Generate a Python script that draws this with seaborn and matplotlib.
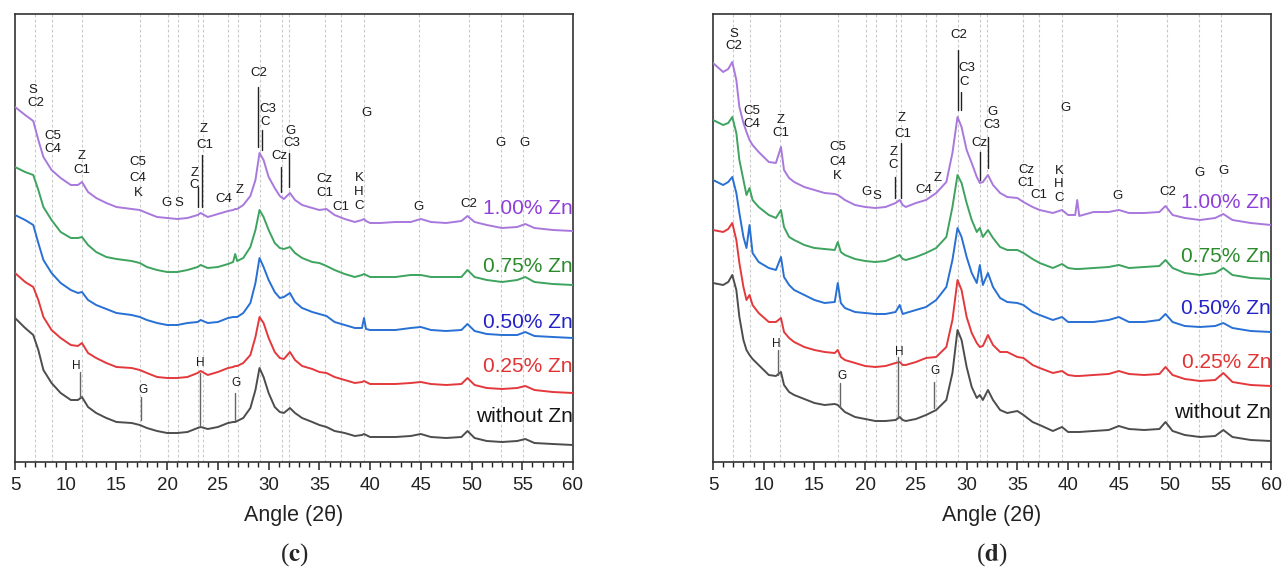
import numpy as np
import pandas as pd
import matplotlib
matplotlib.use("Agg")
import matplotlib.pyplot as plt
from matplotlib.ticker import MultipleLocator
import seaborn as sns

sns.set_theme(style="white")
plt.rcParams['font.family'] = ['Liberation Sans', 'DejaVu Sans']
plt.rcParams['mathtext.fontset'] = 'stix'

# ---------------- data: panel (c) ----------------
angle_c = [5, 6, 6.8, 7.3, 7.8, 8.6, 9.5, 10.5, 11.2, 11.6, 12.2, 13, 14, 15, 16.5, 17.3, 18, 19, 20, 21,
           22, 23, 23.3, 24, 25, 26, 26.5, 26.7, 26.9, 27.5, 28.2, 28.7, 29.1, 29.5, 30, 30.6, 31.1, 31.5,
           32.1, 32.6, 33.3, 34.3, 35, 35.7, 36.5, 37.5, 38.5, 39.2, 39.4, 39.6, 40, 41, 42.5, 44, 45, 46,
           47.5, 49, 49.6, 50.3, 51.5, 53, 54.5, 55.3, 56.2, 58, 60]
c_zn100 = [355, 347, 341, 322, 305, 292, 284, 277, 277, 280, 270, 264, 259, 255, 253, 252, 249, 245, 244, 243,
           244, 247, 249, 245, 248, 251, 252, 253, 253, 257, 266, 282, 309, 302, 285, 274, 266, 263,
           269, 262, 257, 254, 252, 253, 247, 243, 240, 242, 243, 241, 239, 239, 240, 240, 243, 240,
           239, 241, 246, 240, 237, 234, 235, 238, 234, 232, 231]
c_zn075 = [295, 290, 287, 272, 255, 242, 230, 224, 224, 225, 217, 210, 205, 203, 201, 199, 195, 192, 190, 190,
           192, 195, 197, 194, 195, 198, 200, 208, 201, 204, 215, 232, 252, 245, 232, 219, 214, 213,
           215, 209, 204, 200, 199, 196, 192, 188, 185, 187, 188, 187, 185, 185, 185, 187, 187, 185,
           185, 185, 192, 185, 182, 180, 182, 185, 180, 178, 177]
c_zn050 = [247, 242, 237, 219, 202, 189, 179, 172, 169, 170, 162, 157, 153, 149, 147, 145, 142, 139, 137, 137,
           139, 140, 142, 139, 140, 144, 145, 145, 145, 149, 159, 179, 204, 195, 182, 170, 164, 165,
           169, 160, 154, 150, 148, 146, 140, 137, 134, 134, 144, 133, 132, 132, 132, 134, 135, 132,
           131, 132, 138, 131, 128, 127, 127, 130, 126, 125, 124]
c_zn025 = [189, 180, 175, 162, 145, 132, 124, 117, 116, 119, 109, 104, 99, 95, 94, 92, 89, 85, 84, 84,
           85, 89, 91, 87, 90, 94, 95, 96, 96, 99, 107, 125, 145, 139, 124, 110, 104, 103,
           110, 102, 96, 93, 90, 89, 85, 82, 79, 80, 81, 80, 78, 78, 78, 79, 80, 78,
           77, 78, 84, 77, 74, 73, 74, 76, 72, 70, 69]
c_zn000 = [144, 134, 127, 112, 92, 79, 69, 62, 62, 65, 55, 49, 44, 40, 39, 37, 34, 31, 29, 29,
           30, 34, 35, 33, 35, 39, 40, 40, 41, 44, 54, 72, 94, 85, 69, 55, 50, 49,
           54, 49, 44, 40, 37, 35, 31, 29, 26, 27, 28, 27, 25, 25, 25, 26, 28, 25,
           24, 25, 31, 24, 21, 20, 21, 23, 19, 18, 17]

# ---------------- data: panel (d) ----------------
angle_d = [5, 6, 6.5, 6.9, 7.3, 7.6, 8, 8.3, 8.6, 8.9, 9.5, 10.5, 11.2, 11.7, 12, 12.5, 13, 14, 15, 16,
           17, 17.3, 17.6, 18, 19, 20, 21, 22, 23, 23.4, 23.7, 24, 25, 26, 27, 28, 28.6, 29.1, 29.5, 30,
           30.5, 31, 31.3, 31.6, 32.1, 32.6, 33.3, 34, 35, 35.6, 36.5, 37.2, 38.5, 39.4, 40, 40.7, 40.9,
           41.1, 42.5, 44, 45, 46, 47.5, 49, 49.6, 50.3, 51.5, 53, 54.5, 55.3, 56.2, 58, 60]
d_zn100 = [399, 390, 393, 400, 382, 355, 339, 330, 322, 317, 310, 300, 299, 315, 292, 284, 280, 275, 272, 269,
           268, 267, 265, 262, 257, 255, 254, 255, 259, 262, 257, 255, 259, 262, 269, 280, 309, 345, 335, 312,
           299, 285, 279, 280, 287, 277, 269, 265, 264, 260, 255, 252, 249, 252, 247, 247, 262,
           246, 250, 250, 252, 249, 249, 250, 256, 247, 244, 242, 244, 248, 242, 239, 237]
d_zn075 = [342, 337, 339, 345, 329, 302, 282, 267, 274, 262, 255, 247, 244, 252, 235, 225, 222, 217, 214, 213,
           212, 220, 210, 207, 203, 201, 200, 201, 205, 207, 203, 202, 205, 209, 214, 225, 255, 287, 279, 259,
           242, 230, 234, 225, 232, 224, 215, 212, 212, 209, 203, 199, 194, 198, 194, 193, 193,
           193, 194, 195, 197, 194, 195, 196, 202, 194, 189, 187, 189, 194, 187, 184, 183]
d_zn050 = [282, 277, 280, 285, 269, 249, 225, 214, 237, 209, 200, 194, 192, 205, 185, 177, 172, 167, 162, 159,
           160, 179, 159, 154, 150, 149, 148, 148, 150, 157, 148, 149, 152, 155, 162, 175, 202, 234, 225, 205,
           189, 179, 197, 177, 189, 175, 164, 160, 159, 157, 150, 147, 142, 145, 140, 140, 140,
           140, 140, 142, 145, 140, 140, 142, 148, 140, 136, 135, 136, 139, 134, 131, 130]
d_zn025 = [232, 230, 233, 239, 222, 199, 175, 162, 167, 157, 149, 140, 140, 144, 130, 124, 120, 115, 112, 110,
           109, 112, 105, 102, 99, 96, 95, 96, 99, 100, 97, 97, 100, 104, 105, 115, 142, 182, 172, 145,
           129, 119, 115, 116, 127, 117, 110, 110, 105, 104, 97, 94, 89, 91, 87, 86, 86,
           86, 87, 88, 91, 88, 87, 88, 95, 87, 83, 81, 82, 89, 80, 77, 76]
d_zn000 = [179, 177, 180, 187, 172, 145, 122, 112, 107, 103, 97, 87, 86, 90, 77, 70, 67, 63, 59, 57,
           58, 57, 54, 50, 45, 43, 41, 41, 42, 45, 42, 41, 43, 47, 52, 62, 89, 132, 122, 95,
           75, 64, 67, 62, 72, 62, 52, 49, 51, 47, 40, 37, 31, 35, 30, 30, 30,
           30, 31, 32, 36, 33, 32, 33, 40, 31, 27, 25, 26, 32, 25, 22, 21]

samples = ["without Zn", "0.25% Zn", "0.50% Zn", "0.75% Zn", "1.00% Zn"]
line_colors = {"without Zn": "#4d4d4d", "0.25% Zn": "#e4393c", "0.50% Zn": "#2870d4",
               "0.75% Zn": "#3ea35f", "1.00% Zn": "#a878dc"}
label_colors = {"without Zn": "#151515", "0.25% Zn": "#e03434", "0.50% Zn": "#2323c8",
                "0.75% Zn": "#2b8b2b", "1.00% Zn": "#8f3fd9"}

label_y_c = [46, 95, 140, 195, 254]
label_y_d = [49, 100, 153, 206, 259]

grid_angles = [7.0, 8.6, 11.6, 17.3, 20.1, 21.1, 23.0, 23.5, 26.0, 27.0, 29.1, 31.3, 32.0,
               35.6, 37.1, 39.4, 44.8, 49.7, 52.9, 55.1]

# phase annotations: (angle, height, text)
annot_c = [(6.8, 372, "S"), (7.07, 359, "C2"), (8.68, 326, "C5"), (8.68, 313, "C4"),
           (11.57, 306, "Z"), (11.57, 292, "C1"), (17.15, 300, "C5"), (17.15, 284, "C4"), (17.15, 269, "K"),
           (19.95, 259, "G"), (21.2, 259, "S"), (22.67, 289, "Z"), (22.67, 277, "C"),
           (23.6, 333, "Z"), (23.7, 317, "C1"), (25.63, 263, "C4"), (27.1, 272, "Z"),
           (29.05, 389, "C2"), (29.9, 353, "C3"), (29.64, 340, "C"), (31.1, 306, "Cz"),
           (32.18, 331, "G"), (32.27, 319, "C3"), (35.5, 283, "Cz"), (35.5, 269, "C1"), (37.1, 255, "C1"),
           (38.9, 284, "K"), (38.9, 270, "H"), (38.9, 256, "C"), (39.67, 349, "G"),
           (44.75, 255, "G"), (49.7, 258, "C2"), (52.9, 319, "G"), (55.2, 319, "G")]
marks_c = [(23.0, 255, 275), (23.46, 255, 307), (29.0, 315, 375), (29.35, 312, 332),
           (31.2, 270, 295), (32.0, 275, 309)]
annot_c_low = [(11.08, 96, "H"), (17.6, 72, "G"), (23.3, 99, "H"), (26.75, 79, "G")]
marks_c_low = [(11.4, 65, 90), (17.4, 42, 65), (23.24, 37, 89), (26.7, 42, 69)]

annot_d = [(7.1, 428, "S"), (7.1, 416, "C2"), (8.8, 351, "C5"), (8.8, 338, "C4"),
           (11.7, 342, "Z"), (11.7, 329, "C1"), (17.3, 315, "C5"), (17.3, 300, "C4"), (17.3, 286, "K"),
           (20.1, 270, "G"), (21.2, 266, "S"), (22.77, 310, "Z"), (22.77, 297, "C"),
           (23.6, 344, "Z"), (23.76, 328, "C1"), (25.73, 272, "C4"), (27.15, 284, "Z"),
           (29.18, 427, "C2"), (30.0, 394, "C3"), (29.74, 380, "C"), (31.25, 319, "Cz"),
           (32.53, 350, "G"), (32.53, 337, "C3"), (35.85, 292, "Cz"), (35.85, 279, "C1"), (37.16, 267, "C1"),
           (39.1, 291, "K"), (39.1, 278, "H"), (39.1, 264, "C"), (39.7, 354, "G"),
           (44.9, 266, "G"), (49.8, 270, "C2"), (53.0, 289, "G"), (55.3, 291, "G")]
marks_d = [(22.94, 264, 285), (23.53, 264, 319), (29.12, 352, 412), (29.41, 352, 370),
           (31.3, 282, 310), (32.08, 294, 325)]
annot_d_low = [(11.28, 118, "H"), (17.7, 86, "G"), (23.36, 110, "H"), (26.9, 91, "G")]
marks_d_low = [(11.44, 87, 112), (17.5, 55, 79), (23.27, 44, 105), (26.8, 54, 80)]


def draw_panel(ax, angle, series, label_y, annot, marks, annot_low, marks_low):
    for g in grid_angles:
        ax.axvline(g, color="#c9c9c9", lw=0.8, ls=(0, (2.5, 2)), zorder=0)
    frames = []
    for name, vals in zip(samples, series):
        frames.append(pd.DataFrame({"angle": angle, "intensity": vals, "sample": name}))
    df = pd.concat(frames, ignore_index=True)
    sns.lineplot(data=df, x="angle", y="intensity", hue="sample", hue_order=samples,
                 palette=line_colors, estimator=None, legend=False, linewidth=1.4, ax=ax, zorder=3)
    for name, y in zip(samples, label_y):
        ax.text(60.0, y, name, color=label_colors[name], ha="right", va="center", fontsize=15, zorder=5)
    for x, y, t in annot:
        ax.text(x, y, t, ha="center", va="center", fontsize=9.5, color="#1a1a1a", zorder=5)
    for x, y0, y1 in marks:
        ax.plot([x, x], [y0, y1], color="#222222", lw=1.0, zorder=4)
    for x, y, t in annot_low:
        ax.text(x, y, t, ha="center", va="center", fontsize=8.5, color="#1a1a1a", zorder=5)
    for x, y0, y1 in marks_low:
        ax.plot([x, x], [y0, y1], color="#666666", lw=1.0, zorder=4)
    ax.set_xlim(5, 60)
    ax.set_ylim(0, 448)
    ax.set_yticks([])
    ax.xaxis.set_major_locator(MultipleLocator(5))
    ax.xaxis.set_minor_locator(MultipleLocator(1))
    ax.tick_params(axis="x", which="major", bottom=True, direction="out", length=6, width=1.1,
                   labelsize=13.5, pad=5, colors="#222222")
    ax.tick_params(axis="x", which="minor", bottom=True, direction="out", length=3.5, width=1.0,
                   colors="#222222")
    for s in ax.spines.values():
        s.set_color("#333333")
        s.set_linewidth(1.2)
    ax.set_ylabel("")
    ax.set_xlabel("Angle (2θ)", fontsize=15.5, labelpad=8, color="#222222")
    ax.set_facecolor("white")


fig = plt.figure(figsize=(12.82, 5.72), dpi=100)
ax_c = fig.add_axes([15 / 1282, 1 - 462 / 572, 558 / 1282, 448 / 572])
ax_d = fig.add_axes([713 / 1282, 1 - 462 / 572, 558 / 1282, 448 / 572])

draw_panel(ax_c, angle_c, [c_zn000, c_zn025, c_zn050, c_zn075, c_zn100], label_y_c,
           annot_c, marks_c, annot_c_low, marks_c_low)
draw_panel(ax_d, angle_d, [d_zn000, d_zn025, d_zn050, d_zn075, d_zn100], label_y_d,
           annot_d, marks_d, annot_d_low, marks_d_low)

fig.text(294 / 1282, 1 - 555 / 572, r"($\mathbf{c}$)", ha="center", va="center", fontsize=18,
         family="Liberation Serif")
fig.text(992 / 1282, 1 - 555 / 572, r"($\mathbf{d}$)", ha="center", va="center", fontsize=18,
         family="Liberation Serif")

fig.savefig("out.png", dpi=100, facecolor="white")
